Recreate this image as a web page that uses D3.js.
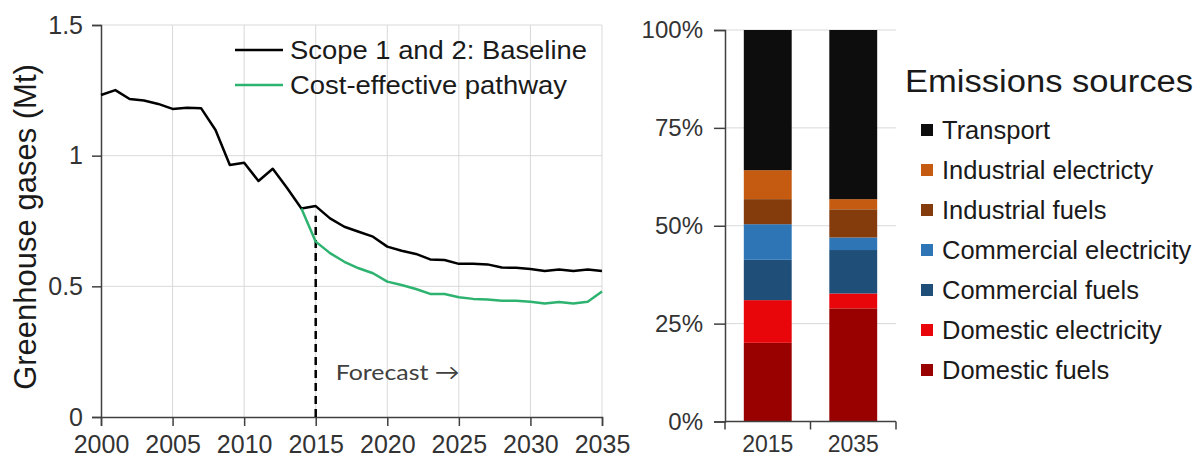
<!DOCTYPE html>
<html>
<head>
<meta charset="utf-8">
<script src="https://cdn.jsdelivr.net/npm/d3@7"></script>
<style>
  body { margin: 0; background: #fff; }
  svg { font-family: "Liberation Sans", Arial, sans-serif; }
</style>
</head>
<body>
<script>
// Left chart data
const years = [2000, 2001, 2002, 2003, 2004, 2005, 2006, 2007, 2008, 2009,
  2010, 2011, 2012, 2013, 2014, 2015, 2016, 2017, 2018, 2019,
  2020, 2021, 2022, 2023, 2024, 2025, 2026, 2027, 2028, 2029,
  2030, 2031, 2032, 2033, 2034, 2035];
const baseline = [1.232, 1.251, 1.217, 1.211, 1.198, 1.179, 1.183, 1.181, 1.098, 0.964,
  0.973, 0.903, 0.950, 0.876, 0.798, 0.807, 0.760, 0.728, 0.709, 0.690,
  0.652, 0.636, 0.624, 0.603, 0.601, 0.586, 0.586, 0.584, 0.572, 0.571,
  0.566, 0.559, 0.564, 0.559, 0.564, 0.559];
const pathwayYears = years.slice(14);
const pathway = [0.798, 0.671, 0.627, 0.594, 0.569, 0.550, 0.518, 0.505, 0.490, 0.471,
  0.471, 0.458, 0.452, 0.450, 0.445, 0.445, 0.441, 0.434, 0.440, 0.434, 0.441, 0.480];
const yTicks = [0, 0.5, 1, 1.5];
const xTicks = [2000, 2005, 2010, 2015, 2020, 2025, 2030, 2035];
const forecastYear = 2015;

// Right chart data (shares, legend order top to bottom)
const sources = ["Transport", "Industrial electricty", "Industrial fuels",
  "Commercial electricity", "Commercial fuels", "Domestic electricity", "Domestic fuels"];
const sourceColors = ["#0d0d0d", "#c55a11", "#843c0c", "#2e75b6", "#1f4e79", "#e8060a", "#990000"];
const barYears = ["2015", "2035"];
const share2015 = [0.358, 0.074, 0.064, 0.091, 0.103, 0.109, 0.201];
const share2035 = [0.432, 0.026, 0.072, 0.032, 0.111, 0.038, 0.289];
const pctTicks = [0, 0.25, 0.5, 0.75, 1];

const W = 1204, H = 458;
const svg = d3.select("body").append("svg").attr("width", W).attr("height", H);

const axisCol = "#404040", gridCol = "#d9d9d9", labelCol = "#333";

// ---------- left line chart ----------
const x = d3.scaleLinear().domain([2000, 2035]).range([101, 602]);
const y = d3.scaleLinear().domain([0, 1.5]).range([417, 25]);

const left = svg.append("g");

// gridlines
left.selectAll(".vg").data(xTicks.slice(1)).enter().append("line")
  .attr("x1", d => x(d)).attr("x2", d => x(d))
  .attr("y1", y(0)).attr("y2", y(1.5))
  .attr("stroke", gridCol).attr("stroke-width", 1);
left.selectAll(".hg").data(yTicks.slice(1)).enter().append("line")
  .attr("x1", x(2000)).attr("x2", x(2035))
  .attr("y1", d => y(d)).attr("y2", d => y(d))
  .attr("stroke", gridCol).attr("stroke-width", 1);

// axes
const yAxis = left.append("g").attr("transform", `translate(${x(2000)},0)`)
  .call(d3.axisLeft(y).tickValues(yTicks).tickFormat(d3.format("")).tickSize(9).tickPadding(9));
const xAxis = left.append("g").attr("transform", `translate(0,${y(0)})`)
  .call(d3.axisBottom(x).tickValues(xTicks).tickFormat(d3.format("d")).tickSize(9).tickPadding(9));
[yAxis, xAxis].forEach(a => {
  a.select(".domain").attr("stroke", axisCol).attr("stroke-width", 1.5);
  a.selectAll(".tick line").attr("stroke", axisCol).attr("stroke-width", 1.5);
  a.selectAll(".tick text").attr("fill", labelCol).style("font-size", "25px")
    .style("font-family", "Liberation Sans, Arial, sans-serif");
});

// forecast marker
left.append("line")
  .attr("x1", x(forecastYear)).attr("x2", x(forecastYear))
  .attr("y1", y(0)).attr("y2", y(0.77))
  .attr("stroke", "#000").attr("stroke-width", 2.5).attr("stroke-dasharray", "8,5");
left.append("text").attr("x", x(forecastYear) + 20).attr("y", 380)
  .attr("fill", "#404040").style("font-family", "Lato, 'Open Sans', sans-serif")
  .style("font-size", "22px").attr("textLength", 124).attr("lengthAdjust", "spacingAndGlyphs")
  .text("Forecast \u2192");

const line = d3.line().x(d => x(d[0])).y(d => y(d[1]));
left.append("path").datum(years.map((yr, i) => [yr, baseline[i]]))
  .attr("d", line).attr("fill", "none").attr("stroke", "#000").attr("stroke-width", 2.5)
  .attr("stroke-linejoin", "round");
left.append("path").datum(pathwayYears.map((yr, i) => [yr, pathway[i]]))
  .attr("d", line).attr("fill", "none").attr("stroke", "#2db36f").attr("stroke-width", 2.5)
  .attr("stroke-linejoin", "round");

// legend
const lineLegend = [
  { label: "Scope 1 and 2: Baseline", color: "#000", w: 297 },
  { label: "Cost-effective pathway", color: "#2db36f", w: 277 }
];
lineLegend.forEach((d, i) => {
  const ly = 50 + i * 35;
  left.append("line").attr("x1", 235).attr("x2", 283).attr("y1", ly).attr("y2", ly)
    .attr("stroke", d.color).attr("stroke-width", 2.5);
  left.append("text").attr("x", 290).attr("y", ly + 9)
    .attr("fill", "#1a1a1a").style("font-size", "25px")
    .attr("textLength", d.w).attr("lengthAdjust", "spacingAndGlyphs")
    .text(d.label);
});

// y title
left.append("text")
  .attr("transform", `translate(36,${(y(0) + y(1.5)) / 2 + 6}) rotate(-90)`)
  .attr("text-anchor", "middle").attr("fill", "#1a1a1a").style("font-size", "31px")
  .text("Greenhouse gases (Mt)");

// ---------- right stacked bars ----------
const xb = d3.scaleBand().domain(barYears).range([725, 896]).paddingInner(0.44).paddingOuter(0.22);
const yb = d3.scaleLinear().domain([0, 1]).range([421.5, 30]);

const right = svg.append("g");
right.selectAll(".hg").data(pctTicks.slice(1)).enter().append("line")
  .attr("x1", 725).attr("x2", 896)
  .attr("y1", d => yb(d)).attr("y2", d => yb(d))
  .attr("stroke", gridCol).attr("stroke-width", 1);

const rows = barYears.map((yr, j) => {
  const r = { year: yr };
  sources.forEach((s, i) => { r[s] = (j === 0 ? share2015 : share2035)[i]; });
  return r;
});
const keys = sources.slice().reverse();
const stack = d3.stack().keys(keys)(rows);
const color = d3.scaleOrdinal().domain(sources).range(sourceColors);

right.selectAll(".layer").data(stack).enter().append("g")
  .attr("fill", d => color(d.key))
  .selectAll("rect").data(d => d).enter().append("rect")
  .attr("x", d => xb(d.data.year))
  .attr("width", xb.bandwidth())
  .attr("y", d => yb(d[1]))
  .attr("height", d => yb(d[0]) - yb(d[1]));

const ybAxis = right.append("g").attr("transform", "translate(725,0)")
  .call(d3.axisLeft(yb).tickValues(pctTicks).tickFormat(d3.format(".0%")).tickSize(11).tickPadding(11));
const xbAxis = right.append("g").attr("transform", `translate(0,${yb(0)})`)
  .call(d3.axisBottom(xb).tickSize(0).tickPadding(14));
// category boundary ticks
const bounds = [725, 725 + xb.step(), 725 + 2 * xb.step()];
xbAxis.selectAll(".bt").data(bounds).enter().append("line")
  .attr("x1", d => d).attr("x2", d => d).attr("y1", 0).attr("y2", 8)
  .attr("stroke", axisCol).attr("stroke-width", 1.5);
[ybAxis, xbAxis].forEach(a => {
  a.select(".domain").attr("stroke", axisCol).attr("stroke-width", 1.5);
  a.selectAll(".tick line").attr("stroke", axisCol).attr("stroke-width", 1.5);
  a.selectAll(".tick text").attr("fill", labelCol).style("font-size", "24px")
    .style("font-family", "Liberation Sans, Arial, sans-serif");
});
xbAxis.selectAll(".tick text").style("font-size", "23px");
xbAxis.select(".domain").attr("d", "M725,0H896");

// legend
right.append("text").attr("x", 905).attr("y", 92).attr("fill", "#1a1a1a")
  .style("font-size", "31px").attr("textLength", 288).attr("lengthAdjust", "spacingAndGlyphs")
  .text("Emissions sources");
const leg = right.selectAll(".leg").data(sources).enter().append("g")
  .attr("transform", (d, i) => `translate(921,${130 + i * 40})`);
leg.append("rect").attr("x", 0).attr("y", -6).attr("width", 12).attr("height", 12)
  .attr("fill", d => color(d));
leg.append("text").attr("x", 21).attr("y", 9).attr("fill", "#1a1a1a")
  .style("font-size", "25.5px").text(d => d);
</script>
</body>
</html>
